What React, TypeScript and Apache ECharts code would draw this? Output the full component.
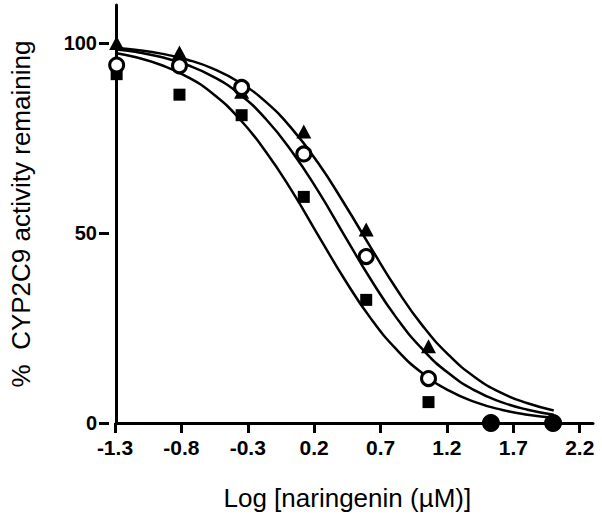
import React, { useEffect, useRef } from "react";
import * as echarts from "echarts";

// Measured points (log concentration, % activity remaining)
const triX = [-1.34, -0.86, -0.385, 0.09, 0.567, 1.043];
const triY = [100, 97.5, 87.2, 76.7, 50.9, 20.2];
const circX = [-1.34, -0.86, -0.385, 0.09, 0.567, 1.043];
const circY = [94.2, 94, 88.3, 70.8, 43.8, 11.7];
const sqX = [-1.34, -0.86, -0.385, 0.09, 0.567, 1.043];
const sqY = [91.8, 86.4, 81, 59.5, 32.4, 5.5];
const zeroX = [1.52, 1.995];
const zeroY = [0, 0];

// Fitted curves
const curveX = [-1.34, -1.2, -1.0, -0.8, -0.6, -0.4, -0.2, 0, 0.2, 0.4, 0.6, 0.8, 1.0, 1.2, 1.4, 1.6, 1.8, 2.0];
const fitSquare = [97.3, 96.3, 94.2, 91.1, 86.5, 80.0, 71.4, 61.0, 49.4, 37.9, 27.6, 19.3, 13.0, 8.5, 5.5, 3.5, 2.2, 1.4];
const fitCircle = [98.3, 97.7, 96.3, 94.2, 91.1, 86.5, 80.0, 71.4, 61.0, 49.4, 37.9, 27.6, 19.3, 13.0, 8.5, 5.5, 3.5, 2.2];
const fitTriangle = [98.7, 98.2, 97.2, 95.6, 93.2, 89.6, 84.5, 77.4, 68.4, 57.7, 46.3, 35.2, 25.5, 17.8, 12.0, 7.9, 5.2, 3.3];

// Tick labels: x from -1.3 to 2.2 every 0.5; y 0, 50, 100
const X_TICK_FIRST = -1.3;
const X_TICK_LAST = 2.2;
const X_TICK_STEP = 0.5;
const Y_TICK_MAX = 100;
const Y_TICK_STEP = 50;

const X_MIN = -1.345;
const X_MAX = 2.3;
const Y_MIN = 0;
const Y_MAX = 110;

const FONT = "'Liberation Sans', Arial, Helvetica, sans-serif";

const W = 602;
const H = 518;
const G_LEFT = 109;
const G_RIGHT = 9;
const G_TOP = 5;
const G_BOTTOM = 95;

const zip = (xs: number[], ys: number[]) => xs.map((x, i) => [x, ys[i]]);

export default function App() {
  const ref = useRef<HTMLDivElement>(null);
  useEffect(() => {
    if (!ref.current) return;
    const chart = echarts.init(ref.current, undefined, { renderer: "svg" });

    const plotW = W - G_LEFT - G_RIGHT;
    const plotH = H - G_TOP - G_BOTTOM;
    const pxX = (v: number) => G_LEFT + ((v - X_MIN) / (X_MAX - X_MIN)) * plotW;
    const pxY = (v: number) => G_TOP + ((Y_MAX - v) / (Y_MAX - Y_MIN)) * plotH;

    const lineSeries = (data: number[]) => ({
      type: "line",
      xAxisIndex: 0,
      yAxisIndex: 0,
      data: zip(curveX, data),
      symbol: "none",
      smooth: true,
      lineStyle: { color: "#000", width: 2.5 },
      z: 2,
    });
    const scatter = (xs: number[], ys: number[], extra: any) => ({
      type: "scatter",
      xAxisIndex: 0,
      yAxisIndex: 0,
      data: zip(xs, ys),
      ...extra,
    });

    const tickStyle = { show: true, length: 10, inside: false, lineStyle: { color: "#000", width: 3 } };

    chart.setOption({
      animation: false,
      backgroundColor: "#fff",
      grid: [
        { left: G_LEFT, right: G_RIGHT, top: G_TOP, bottom: G_BOTTOM, containLabel: false },
        // grid whose bottom axis carries the x ticks (-1.3 ... 2.2)
        {
          left: pxX(X_TICK_FIRST),
          right: W - pxX(X_TICK_LAST),
          top: G_TOP,
          bottom: G_BOTTOM,
          containLabel: false,
        },
        // grid whose left axis carries the y ticks (0 ... 100)
        { left: G_LEFT, right: G_RIGHT, top: pxY(Y_TICK_MAX), bottom: G_BOTTOM, containLabel: false },
      ],
      xAxis: [
        {
          gridIndex: 0,
          type: "value",
          min: X_MIN,
          max: X_MAX,
          axisLine: { show: true, onZero: false, lineStyle: { color: "#000", width: 3 } },
          axisTick: { show: false },
          axisLabel: { show: false },
          splitLine: { show: false },
        },
        {
          gridIndex: 1,
          type: "value",
          min: 0,
          max: X_TICK_LAST - X_TICK_FIRST,
          interval: X_TICK_STEP,
          name: "Log [naringenin (\u00b5M)]",
          nameLocation: "middle",
          nameGap: 62,
          nameTextStyle: { fontFamily: FONT, fontSize: 26, color: "#000" },
          axisLine: { show: false, onZero: false },
          axisTick: tickStyle,
          axisLabel: {
            formatter: (v: number) => (v + X_TICK_FIRST).toFixed(1),
            fontFamily: FONT,
            fontWeight: "bold",
            fontSize: 21,
            color: "#000",
            margin: 14,
          },
          splitLine: { show: false },
        },
        { gridIndex: 2, type: "value", min: X_MIN, max: X_MAX, show: false },
      ],
      yAxis: [
        {
          gridIndex: 0,
          type: "value",
          min: Y_MIN,
          max: Y_MAX,
          name: "%  CYP2C9 activity remaining",
          nameLocation: "middle",
          nameGap: 82,
          nameTextStyle: { fontFamily: FONT, fontSize: 26, color: "#000" },
          axisLine: { show: true, onZero: false, lineStyle: { color: "#000", width: 3 } },
          axisTick: { show: false },
          axisLabel: { show: false },
          splitLine: { show: false },
        },
        { gridIndex: 1, type: "value", min: Y_MIN, max: Y_MAX, show: false },
        {
          gridIndex: 2,
          type: "value",
          min: Y_MIN,
          max: Y_TICK_MAX,
          interval: Y_TICK_STEP,
          axisLine: { show: false, onZero: false },
          axisTick: tickStyle,
          axisLabel: {
            fontFamily: FONT,
            fontWeight: "bold",
            fontSize: 20,
            color: "#000",
            margin: 12,
          },
          splitLine: { show: false },
        },
      ],
      series: [
        lineSeries(fitSquare),
        lineSeries(fitCircle),
        lineSeries(fitTriangle),
        scatter(sqX, sqY, {
          symbol: "rect",
          symbolSize: 12,
          itemStyle: { color: "#000", opacity: 1 },
          z: 3,
        }),
        scatter(triX, triY, {
          symbol: "triangle",
          symbolSize: [15, 14],
          itemStyle: { color: "#000", opacity: 1 },
          z: 3,
        }),
        scatter(circX, circY, {
          symbol: "circle",
          symbolSize: 14,
          itemStyle: { color: "#fff", borderColor: "#000", borderWidth: 3, opacity: 1 },
          z: 4,
        }),
        scatter(zeroX, zeroY, {
          symbol: "circle",
          symbolSize: 18,
          itemStyle: { color: "#000", opacity: 1 },
          clip: false,
          z: 5,
        }),
      ],
    });
    return () => chart.dispose();
  }, []);
  return (
    <div
      ref={ref}
      style={{ position: "fixed", left: 0, top: 0, width: W, height: H, background: "#fff" }}
    />
  );
}
